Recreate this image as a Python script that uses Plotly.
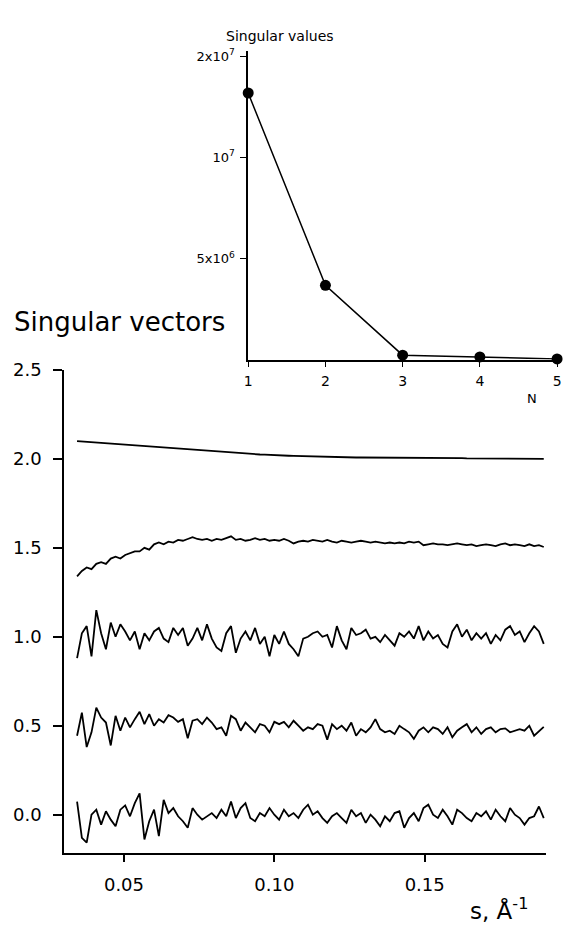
import plotly.graph_objects as go

# ---------------- data ----------------
s_values = [
    0.0344, 0.0360, 0.0376, 0.0392, 0.0408, 0.0424, 0.0440, 0.0456, 0.0472, 0.0488,
    0.0504, 0.0520, 0.0536, 0.0552, 0.0568, 0.0584, 0.0600, 0.0616, 0.0632, 0.0648,
    0.0664, 0.0680, 0.0696, 0.0712, 0.0728, 0.0744, 0.0760, 0.0776, 0.0792, 0.0808,
    0.0824, 0.0840, 0.0856, 0.0872, 0.0888, 0.0904, 0.0920, 0.0936, 0.0952, 0.0968,
    0.0984, 0.1000, 0.1016, 0.1032, 0.1048, 0.1064, 0.1080, 0.1096, 0.1112, 0.1128,
    0.1144, 0.1160, 0.1176, 0.1192, 0.1208, 0.1224, 0.1240, 0.1256, 0.1272, 0.1288,
    0.1304, 0.1320, 0.1336, 0.1352, 0.1368, 0.1384, 0.1400, 0.1416, 0.1432, 0.1448,
    0.1464, 0.1480, 0.1496, 0.1512, 0.1528, 0.1544, 0.1560, 0.1576, 0.1592, 0.1608,
    0.1624, 0.1640, 0.1656, 0.1672, 0.1688, 0.1704, 0.1720, 0.1736, 0.1752, 0.1768,
    0.1784, 0.1800, 0.1816, 0.1832, 0.1848, 0.1864, 0.1880, 0.1896,
]

vector1 = [
    2.100, 2.098, 2.096, 2.093, 2.091, 2.089, 2.087, 2.085, 2.082, 2.080,
    2.078, 2.076, 2.074, 2.072, 2.069, 2.067, 2.065, 2.063, 2.061, 2.059,
    2.057, 2.055, 2.053, 2.051, 2.049, 2.047, 2.045, 2.043, 2.041, 2.039,
    2.038, 2.036, 2.034, 2.032, 2.031, 2.029, 2.028, 2.026, 2.025, 2.024,
    2.022, 2.021, 2.020, 2.019, 2.018, 2.017, 2.016, 2.015, 2.014, 2.013,
    2.013, 2.012, 2.011, 2.011, 2.010, 2.010, 2.009, 2.009, 2.008, 2.008,
    2.008, 2.007, 2.007, 2.007, 2.006, 2.006, 2.006, 2.006, 2.005, 2.005,
    2.005, 2.005, 2.005, 2.005, 2.004, 2.004, 2.004, 2.004, 2.004, 2.004,
    2.004, 2.003, 2.003, 2.003, 2.003, 2.003, 2.003, 2.003, 2.003, 2.002,
    2.002, 2.002, 2.002, 2.002, 2.001, 2.003, 1.999, 2.000,
]

vector2 = [
    1.340, 1.370, 1.390, 1.380, 1.410, 1.420, 1.410, 1.440, 1.450, 1.440,
    1.460, 1.470, 1.480, 1.480, 1.500, 1.490, 1.520, 1.530, 1.520, 1.535,
    1.530, 1.545, 1.540, 1.550, 1.560, 1.550, 1.545, 1.550, 1.540, 1.550,
    1.545, 1.555, 1.565, 1.545, 1.550, 1.540, 1.545, 1.555, 1.545, 1.550,
    1.540, 1.545, 1.540, 1.550, 1.540, 1.525, 1.535, 1.540, 1.535, 1.545,
    1.540, 1.535, 1.545, 1.535, 1.530, 1.540, 1.535, 1.530, 1.535, 1.540,
    1.535, 1.530, 1.535, 1.530, 1.525, 1.530, 1.525, 1.530, 1.525, 1.535,
    1.530, 1.535, 1.515, 1.520, 1.525, 1.520, 1.520, 1.515, 1.520, 1.525,
    1.520, 1.515, 1.520, 1.510, 1.515, 1.520, 1.515, 1.510, 1.520, 1.525,
    1.515, 1.520, 1.515, 1.510, 1.520, 1.510, 1.515, 1.505,
]

vector3 = [
    0.88, 1.02, 1.06, 0.89, 1.15, 1.02, 0.93, 1.08, 1.00, 1.07,
    1.03, 0.98, 1.03, 0.93, 1.02, 0.98, 1.03, 1.05, 0.99, 0.97,
    1.05, 1.01, 1.05, 0.95, 0.99, 1.05, 0.98, 1.07, 0.99, 0.94,
    0.92, 1.02, 1.06, 0.91, 0.99, 1.03, 0.98, 1.05, 0.96, 1.00,
    0.89, 1.01, 0.96, 1.03, 0.96, 0.93, 0.89, 0.99, 1.00, 1.02,
    1.03, 1.00, 1.01, 0.94, 1.06, 0.98, 0.93, 1.05, 1.01, 1.02,
    1.04, 0.99, 1.00, 0.97, 1.01, 0.98, 0.95, 1.02, 1.00, 1.03,
    0.99, 1.06, 0.98, 1.03, 0.99, 1.01, 0.96, 0.94, 1.03, 1.07,
    1.00, 1.04, 0.98, 1.02, 0.99, 1.02, 0.96, 1.01, 0.98, 1.04,
    1.06, 1.01, 1.03, 0.97, 1.02, 1.06, 1.03, 0.96,
]

vector4 = [
    0.444, 0.574, 0.380, 0.463, 0.602, 0.546, 0.518, 0.389, 0.556, 0.472,
    0.546, 0.491, 0.537, 0.578, 0.509, 0.565, 0.500, 0.537, 0.518, 0.559,
    0.546, 0.522, 0.537, 0.430, 0.528, 0.537, 0.509, 0.546, 0.518, 0.481,
    0.491, 0.444, 0.556, 0.537, 0.472, 0.518, 0.491, 0.463, 0.509, 0.500,
    0.463, 0.522, 0.509, 0.522, 0.491, 0.528, 0.500, 0.472, 0.491, 0.481,
    0.509, 0.500, 0.422, 0.509, 0.481, 0.500, 0.472, 0.518, 0.444, 0.481,
    0.463, 0.491, 0.537, 0.481, 0.463, 0.472, 0.454, 0.500, 0.481, 0.463,
    0.426, 0.472, 0.491, 0.463, 0.491, 0.481, 0.454, 0.491, 0.435, 0.472,
    0.491, 0.509, 0.463, 0.491, 0.454, 0.481, 0.491, 0.463, 0.481, 0.485,
    0.463, 0.472, 0.481, 0.472, 0.500, 0.444, 0.472, 0.494,
]

vector5 = [
    0.074, -0.130, -0.157, 0.000, 0.028, -0.056, 0.019, -0.028, -0.065, 0.028,
    0.052, -0.009, 0.065, 0.120, -0.139, -0.037, 0.028, -0.120, 0.083, 0.009,
    0.037, -0.009, -0.037, -0.074, 0.037, 0.000, -0.028, -0.009, 0.009, -0.019,
    0.028, -0.009, 0.074, -0.019, 0.037, 0.065, -0.019, -0.037, 0.009, -0.009,
    0.037, 0.000, -0.028, 0.028, -0.009, 0.009, -0.019, 0.028, 0.056, 0.000,
    0.019, -0.019, -0.046, -0.009, 0.009, -0.019, -0.046, 0.028, -0.009, 0.009,
    -0.046, 0.000, -0.028, -0.065, -0.009, -0.037, 0.009, 0.019, -0.074, -0.019,
    0.009, -0.037, 0.037, 0.056, 0.000, -0.019, 0.028, -0.009, -0.056, 0.028,
    0.009, -0.019, -0.037, 0.009, -0.009, 0.019, -0.028, 0.028, -0.009, -0.037,
    0.037, 0.000, -0.019, -0.056, -0.019, -0.009, 0.046, -0.019,
]

n_values = [1, 2, 3, 4, 5]
singular_values = [13.18e6, 3.67e6, 0.215e6, 0.13e6, 0.03e6]

main_y_ticks = [0.0, 0.5, 1.0, 1.5, 2.0, 2.5]
main_y_ticktext = ["0.0", "0.5", "1.0", "1.5", "2.0", "2.5"]
main_x_ticks = [0.05, 0.10, 0.15]
main_x_ticktext = ["0.05", "0.10", "0.15"]
inset_y_ticks = [5e6, 1e7, 1.5e7]
inset_y_ticktext = ["5x10<sup>6</sup>", "10<sup>7</sup>", "2x10<sup>7</sup>"]

# ---------------- figure ----------------
W, H = 567, 929
FONT = "DejaVu Sans"

fig = go.Figure()
for vec in [vector1, vector2, vector3, vector4, vector5]:
    fig.add_trace(go.Scatter(
        x=s_values, y=vec, mode="lines",
        line=dict(color="black", width=1.8),
        xaxis="x", yaxis="y", showlegend=False,
    ))

fig.add_trace(go.Scatter(
    x=n_values, y=singular_values, mode="lines+markers",
    line=dict(color="black", width=1.5),
    marker=dict(color="black", size=11),
    xaxis="x2", yaxis="y2", showlegend=False, cliponaxis=False,
))

def px(x):
    return x / W

def py(y):
    return 1 - y / H

axis_common = dict(
    showgrid=False, zeroline=False, showline=True, linecolor="black",
    ticks="outside", tickcolor="black", mirror=False,
)

fig.update_layout(
    width=W, height=H,
    margin=dict(l=0, r=0, t=0, b=0),
    paper_bgcolor="white", plot_bgcolor="white",
    font=dict(family=FONT, color="black"),
    xaxis=dict(
        domain=[px(61), px(549.3)], range=[0.0301, 0.1902],
        tickvals=main_x_ticks, ticktext=main_x_ticktext,
        ticklen=7, tickwidth=1.5, linewidth=1.7,
        tickfont=dict(size=18, family=FONT), ticklabelstandoff=8,
        anchor="y", **axis_common,
    ),
    yaxis=dict(
        domain=[py(852), py(363.3)], range=[-0.215, 2.5],
        tickvals=main_y_ticks, ticktext=main_y_ticktext,
        ticklen=9, tickwidth=1.5, linewidth=1.7,
        tickfont=dict(size=18, family=FONT), ticklabelstandoff=8,
        anchor="x", **axis_common,
    ),
    xaxis2=dict(
        domain=[px(247.7), px(561)], range=[1, 5],
        tickvals=n_values, ticktext=[str(n) for n in n_values],
        ticklen=6, tickwidth=1.2, linewidth=1.7,
        tickfont=dict(size=14, family=FONT), ticklabelstandoff=2,
        ticklabeloverflow="allow",
        anchor="y2", **axis_common,
    ),
    yaxis2=dict(
        domain=[py(352.7), py(40)], range=[0, 1.528e7],
        tickvals=inset_y_ticks, ticktext=inset_y_ticktext,
        ticklen=6, tickwidth=1.2, linewidth=1.7,
        tickfont=dict(size=13, family=FONT), ticklabelstandoff=3,
        anchor="x2", **axis_common,
    ),
    annotations=[
        dict(text="Singular vectors", x=px(8), y=py(315), xref="paper", yref="paper",
             xanchor="left", yanchor="middle", showarrow=False,
             font=dict(size=26, family=FONT)),
        dict(text="Singular values", x=px(280), y=py(25), xref="paper", yref="paper",
             xanchor="center", yanchor="middle", showarrow=False,
             font=dict(size=14, family=FONT)),
        dict(text="N", x=px(536), y=py(392), xref="paper", yref="paper",
             xanchor="center", yanchor="middle", showarrow=False,
             font=dict(size=13, family=FONT)),
        dict(text="s, Å<sup>-1</sup>", x=px(534), y=py(909), xref="paper", yref="paper",
             xanchor="right", yanchor="middle", showarrow=False,
             font=dict(size=23, family=FONT)),
    ],
)

fig.write_html(
    "out.html",
    config={"displayModeBar": False},
    post_script="document.body.style.margin='0';document.body.style.padding='0';"
                "document.body.style.overflow='hidden';",
)
